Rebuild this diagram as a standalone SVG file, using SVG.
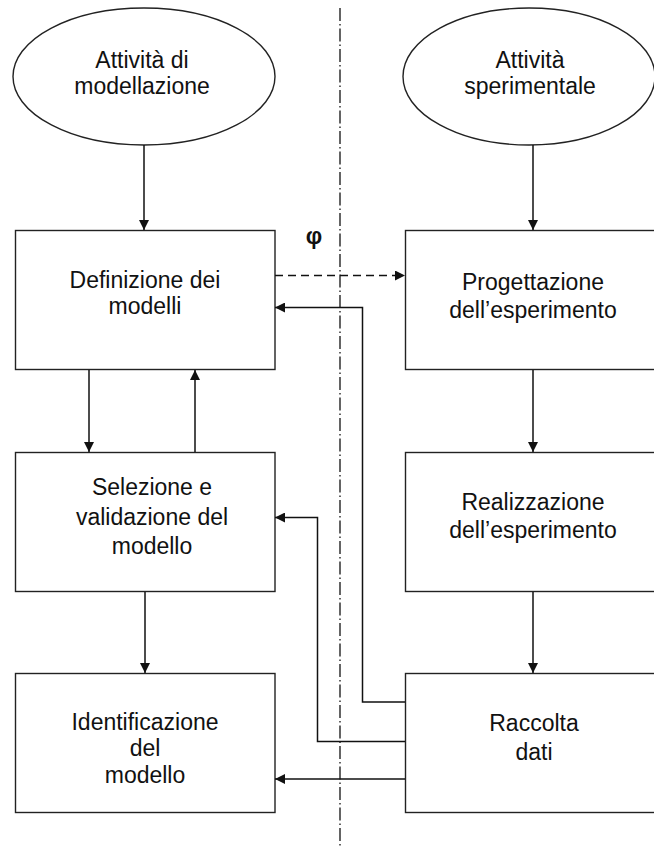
<svg xmlns="http://www.w3.org/2000/svg" width="654" height="848" viewBox="0 0 654 848">
<style>
  .shape { fill: #ffffff; stroke: #222222; stroke-width: 1.4; }
  .lbl { font-family: "Liberation Sans", Arial, sans-serif; font-size: 23px; fill: #111111; text-anchor: middle; }
  .conn { fill: none; stroke: #111111; stroke-width: 1.5; }
  .dash { stroke-dasharray: 8 5; }
  .axis { fill: none; stroke: #111111; stroke-width: 1.3; stroke-dasharray: 13 3 1.5 3; }
  .phi { font-family: "Liberation Sans", Arial, sans-serif; font-size: 23px; font-weight: bold; fill: #111111; text-anchor: middle; }
</style>
<defs>
  <marker id="ah" viewBox="0 0 10 10" refX="10" refY="5" markerWidth="11" markerHeight="10" markerUnits="userSpaceOnUse" orient="auto">
    <path d="M0,0 L10,5 L0,10 Z" fill="#111111"/>
  </marker>
</defs>
<line class="axis" x1="340" y1="8" x2="340" y2="848"/>
<text class="phi" x="314" y="244">φ</text>
<g id="ell-mod">
  <ellipse class="shape" cx="144" cy="76.5" rx="131" ry="68.5"/>
  <text class="lbl" x="142" y="68">Attività di</text>
  <text class="lbl" x="142" y="94">modellazione</text>
</g>
<g id="ell-sper">
  <ellipse class="shape" cx="529" cy="76.5" rx="126" ry="68.5"/>
  <text class="lbl" x="530" y="68">Attività</text>
  <text class="lbl" x="530" y="94">sperimentale</text>
</g>
<g id="box-def">
  <rect class="shape" x="15.5" y="230.5" width="259.5" height="139"/>
  <text class="lbl" x="145" y="288">Definizione dei</text>
  <text class="lbl" x="145" y="314">modelli</text>
</g>
<g id="box-sel">
  <rect class="shape" x="15.5" y="452.5" width="259.5" height="139"/>
  <text class="lbl" x="152" y="495">Selezione e</text>
  <text class="lbl" x="152" y="525">validazione del</text>
  <text class="lbl" x="152" y="554">modello</text>
</g>
<g id="box-id">
  <rect class="shape" x="15.5" y="673.5" width="259.5" height="139"/>
  <text class="lbl" x="145" y="730">Identificazione</text>
  <text class="lbl" x="145" y="756">del</text>
  <text class="lbl" x="145" y="783">modello</text>
</g>
<g id="box-prog">
  <rect class="shape" x="405.5" y="230.5" width="260" height="139"/>
  <text class="lbl" x="533" y="290">Progettazione</text>
  <text class="lbl" x="533" y="318">dell’esperimento</text>
</g>
<g id="box-real">
  <rect class="shape" x="405.5" y="452.5" width="260" height="139"/>
  <text class="lbl" x="533" y="510">Realizzazione</text>
  <text class="lbl" x="533" y="538">dell’esperimento</text>
</g>
<g id="box-racc">
  <rect class="shape" x="405.5" y="673.5" width="260" height="139"/>
  <text class="lbl" x="534" y="731">Raccolta</text>
  <text class="lbl" x="534" y="760">dati</text>
</g>
<g id="connectors">
  <line class="conn" x1="144" y1="145" x2="144" y2="230" marker-end="url(#ah)"/>
  <line class="conn" x1="533" y1="145" x2="533" y2="230" marker-end="url(#ah)"/>
  <line class="conn" x1="89" y1="370" x2="89" y2="452" marker-end="url(#ah)"/>
  <line class="conn" x1="195" y1="452" x2="195" y2="370" marker-end="url(#ah)"/>
  <line class="conn" x1="145" y1="592" x2="145" y2="673" marker-end="url(#ah)"/>
  <line class="conn" x1="533" y1="370" x2="533" y2="452" marker-end="url(#ah)"/>
  <line class="conn" x1="533" y1="592" x2="533" y2="673" marker-end="url(#ah)"/>
  <line class="conn dash" x1="275" y1="275.5" x2="405" y2="275.5" marker-end="url(#ah)"/>
  <polyline class="conn" points="405,702 362.5,702 362.5,307.5 275,307.5" marker-end="url(#ah)"/>
  <polyline class="conn" points="405,741.5 317.5,741.5 317.5,517.5 275,517.5" marker-end="url(#ah)"/>
  <line class="conn" x1="405" y1="779" x2="275" y2="779" marker-end="url(#ah)"/>
</g>
</svg>
